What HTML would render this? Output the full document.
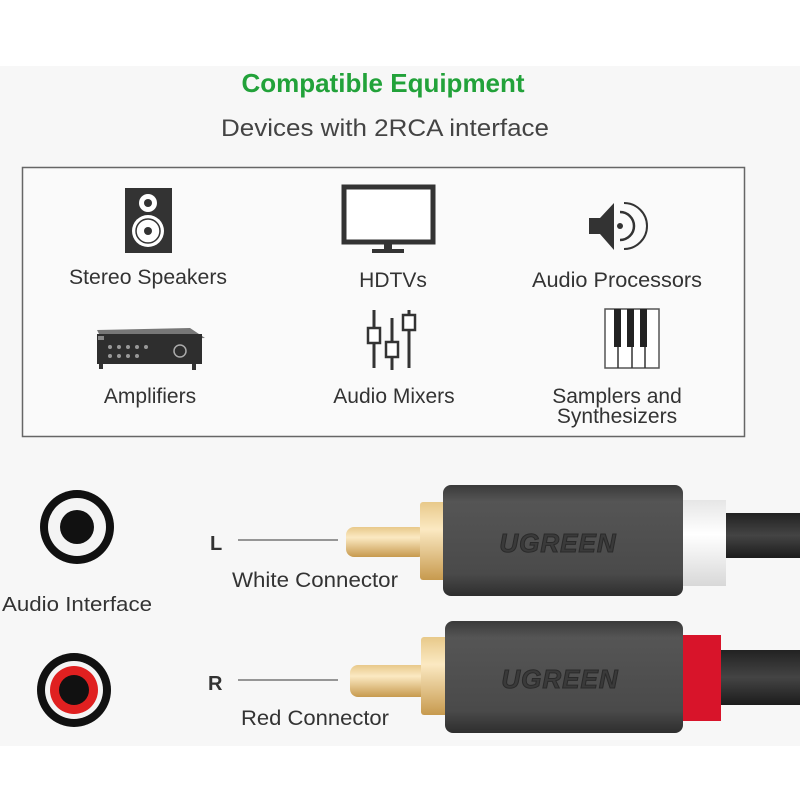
<!DOCTYPE html>
<html><head><style>
html,body{margin:0;padding:0;background:#fff;}
svg{display:block;}
text{font-family:"Liberation Sans",sans-serif;}
</style></head><body>
<svg width="800" height="800" viewBox="0 0 800 800" xmlns="http://www.w3.org/2000/svg">
<defs>
<linearGradient id="gold" x1="0" y1="0" x2="0" y2="1">
<stop offset="0" stop-color="#e8c98a"/><stop offset="0.35" stop-color="#fbe9c2"/><stop offset="1" stop-color="#c79a4e"/>
</linearGradient>
<linearGradient id="body" x1="0" y1="0" x2="0" y2="1">
<stop offset="0" stop-color="#3a3a3a"/><stop offset="0.15" stop-color="#555"/><stop offset="0.8" stop-color="#4a4a4a"/><stop offset="1" stop-color="#2e2e2e"/>
</linearGradient>
<linearGradient id="cab" x1="0" y1="0" x2="0" y2="1">
<stop offset="0" stop-color="#222"/><stop offset="0.5" stop-color="#444"/><stop offset="1" stop-color="#1c1c1c"/>
</linearGradient>
<linearGradient id="wr" x1="0" y1="0" x2="0" y2="1">
<stop offset="0" stop-color="#e6e6e6"/><stop offset="0.4" stop-color="#ffffff"/><stop offset="1" stop-color="#d8d8d8"/>
</linearGradient>
</defs>
<rect x="0" y="66" width="800" height="680" fill="#f7f7f7"/>
<text x="383" y="92" text-anchor="middle" font-size="26" font-weight="bold" fill="#22a23a">Compatible Equipment</text>
<text x="385" y="136" text-anchor="middle" font-size="24" fill="#444" textLength="328" lengthAdjust="spacingAndGlyphs">Devices with 2RCA interface</text>
<rect x="22.5" y="167.5" width="722" height="269" fill="#fafafa" stroke="#666" stroke-width="1.5"/>

<rect x="125" y="188" width="47" height="65" fill="#333"/>
<circle cx="148" cy="203" r="9" fill="#fff"/><circle cx="148" cy="203" r="4" fill="#333"/>
<circle cx="148" cy="231" r="16" fill="#fff"/><circle cx="148" cy="231" r="12" fill="none" stroke="#333" stroke-width="1.5"/><circle cx="148" cy="231" r="4" fill="#333"/>
<rect x="344" y="187" width="89" height="55" fill="#fff" stroke="#333" stroke-width="5"/>
<rect x="384" y="244" width="8" height="6" fill="#333"/><rect x="372" y="249" width="32" height="4" fill="#333"/>
<rect x="589" y="218" width="11" height="16" fill="#333"/>
<polygon points="600,218 614,203 614,250 600,234" fill="#333"/>
<circle cx="620" cy="226" r="3" fill="#333"/>
<path d="M620 212 A14 14 0 0 1 620 240" fill="none" stroke="#333" stroke-width="2.5"/>
<path d="M624 203 A23 23 0 0 1 624 249" fill="none" stroke="#333" stroke-width="2"/>
<text x="148" y="284" text-anchor="middle" font-size="21" fill="#333" textLength="158" lengthAdjust="spacingAndGlyphs">Stereo Speakers</text>
<text x="393" y="287" text-anchor="middle" font-size="21" fill="#333">HDTVs</text>
<text x="617" y="287" text-anchor="middle" font-size="21" fill="#333" textLength="170" lengthAdjust="spacingAndGlyphs">Audio Processors</text>
<polygon points="97,330 190,328 205,338 103,342" fill="#777"/>
<rect x="97" y="334" width="105" height="30" fill="#2e2e2e"/>
<rect x="98" y="336" width="6" height="4" fill="#888"/>
<g fill="#999"><circle cx="110" cy="347" r="2"/><circle cx="119" cy="347" r="2"/><circle cx="128" cy="347" r="2"/><circle cx="137" cy="347" r="2"/><circle cx="146" cy="347" r="2"/><circle cx="110" cy="356" r="2"/><circle cx="119" cy="356" r="2"/><circle cx="128" cy="356" r="2"/><circle cx="137" cy="356" r="2"/></g>
<circle cx="180" cy="351" r="6" fill="none" stroke="#aaa" stroke-width="1.5"/>
<rect x="99" y="364" width="4" height="5" fill="#333"/><rect x="192" y="364" width="4" height="6" fill="#333"/>
<g stroke="#333" stroke-width="3"><line x1="374" y1="310" x2="374" y2="368"/><line x1="392" y1="318" x2="392" y2="370"/><line x1="409" y1="310" x2="409" y2="368"/></g>
<g fill="#fff" stroke="#333" stroke-width="2.5"><rect x="368" y="328" width="12" height="15"/><rect x="386" y="342" width="12" height="15"/><rect x="403" y="315" width="12" height="15"/></g>
<rect x="605" y="309" width="54" height="59" fill="#fff" stroke="#555" stroke-width="1.5"/>
<g stroke="#333" stroke-width="1.5"><line x1="618" y1="309" x2="618" y2="368"/><line x1="632" y1="309" x2="632" y2="368"/><line x1="645" y1="309" x2="645" y2="368"/></g>
<g fill="#222"><rect x="614" y="309" width="7" height="38"/><rect x="627" y="309" width="7" height="38"/><rect x="640" y="309" width="7" height="38"/></g>
<text x="150" y="403" text-anchor="middle" font-size="21" fill="#333">Amplifiers</text>
<text x="394" y="403" text-anchor="middle" font-size="21" fill="#333">Audio Mixers</text>
<text x="617" y="403" text-anchor="middle" font-size="21" fill="#333">Samplers and</text>
<text x="617" y="423" text-anchor="middle" font-size="21" fill="#333">Synthesizers</text>

<circle cx="77" cy="527" r="37" fill="#111"/><circle cx="77" cy="527" r="29" fill="#f4f4f4"/><circle cx="77" cy="527" r="17" fill="#111"/>
<circle cx="74" cy="690" r="37" fill="#111"/><circle cx="74" cy="690" r="29" fill="#f4f4f4"/><circle cx="74" cy="690" r="24" fill="#e02020"/><circle cx="74" cy="690" r="15" fill="#111"/>
<text x="2" y="611" font-size="20" fill="#333" textLength="150" lengthAdjust="spacingAndGlyphs">Audio Interface</text>

<text x="210" y="550" font-size="20" font-weight="bold" fill="#333" font-family="Liberation Serif">L</text>
<line x1="238" y1="540" x2="338" y2="540" stroke="#777" stroke-width="1.5"/>
<text x="232" y="587" font-size="21" fill="#333" textLength="166" lengthAdjust="spacingAndGlyphs">White Connector</text>
<rect x="715" y="513" width="85" height="45" fill="url(#cab)"/>
<rect x="676" y="500" width="50" height="86" fill="url(#wr)"/>
<rect x="346" y="527" width="80" height="30" rx="8" fill="url(#gold)"/>
<rect x="420" y="502" width="26" height="78" rx="3" fill="url(#gold)"/>
<rect x="443" y="485" width="240" height="111" rx="8" fill="url(#body)"/>
<text x="558" y="552" text-anchor="middle" font-size="26" font-style="italic" font-weight="bold" fill="#3a3a3a" stroke="#2a2a2a" stroke-width="1" letter-spacing="1">UGREEN</text>
<text x="208" y="690" font-size="20" font-weight="bold" fill="#333" font-family="Liberation Serif">R</text>
<line x1="238" y1="680" x2="338" y2="680" stroke="#777" stroke-width="1.5"/>
<text x="241" y="725" font-size="21" fill="#333" textLength="148" lengthAdjust="spacingAndGlyphs">Red Connector</text>
<rect x="715" y="650" width="85" height="55" fill="url(#cab)"/>
<rect x="676" y="635" width="45" height="86" fill="#d8142a"/>
<rect x="350" y="665" width="78" height="32" rx="8" fill="url(#gold)"/>
<rect x="421" y="637" width="27" height="78" rx="3" fill="url(#gold)"/>
<rect x="445" y="621" width="238" height="112" rx="8" fill="url(#body)"/>
<text x="560" y="688" text-anchor="middle" font-size="26" font-style="italic" font-weight="bold" fill="#3a3a3a" stroke="#2a2a2a" stroke-width="1" letter-spacing="1">UGREEN</text>
</svg>
</body></html>
